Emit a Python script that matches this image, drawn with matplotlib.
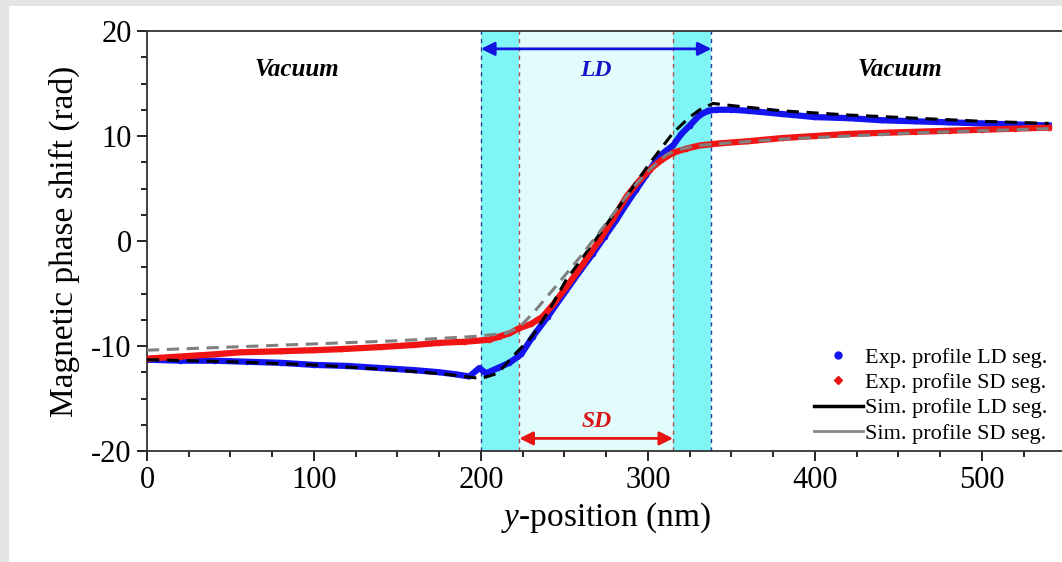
import numpy as np
import matplotlib
matplotlib.use("Agg")
import matplotlib.pyplot as plt
from matplotlib.patches import Rectangle
from matplotlib.ticker import MultipleLocator

plt.rcParams["mathtext.fontset"] = "custom"
plt.rcParams["mathtext.it"] = "Liberation Serif:italic"
plt.rcParams["mathtext.rm"] = "Liberation Serif"
plt.rcParams["axes.unicode_minus"] = False

# y-position (nm) and phase (rad)
x_ld = [0, 20, 40, 60, 80, 100, 120, 140, 160, 175, 185, 193, 199, 203, 210, 217, 224, 231,
        240, 251, 260, 267, 274, 281, 287, 293, 299, 305, 310, 315, 320, 325, 331, 336, 341,
        350, 360, 380, 400, 420, 440, 460, 480, 500, 520, 540]
exp_ld = [-11.3, -11.4, -11.4, -11.5, -11.6, -11.8, -11.9, -12.1, -12.3, -12.5, -12.7, -12.9,
          -12.1, -12.6, -12.1, -11.6, -10.8, -9.1, -7.2, -4.7, -2.7, -1.2, 0.4, 2.0, 3.5, 4.9,
          6.3, 7.7, 8.5, 9.1, 10.2, 11.0, 12.0, 12.4, 12.5, 12.5, 12.4, 12.1, 11.8, 11.7,
          11.5, 11.4, 11.3, 11.2, 11.1, 11.0]

x_sd = [0, 20, 40, 56, 80, 100, 116, 140, 160, 175, 190, 205, 211, 217, 223, 230, 237, 244,
        251, 261, 271, 279, 287, 294, 301, 308, 315, 323, 331, 343, 360, 380, 400, 420, 440,
        460, 480, 500, 520, 540]
exp_sd = [-11.2, -11.0, -10.8, -10.6, -10.5, -10.4, -10.3, -10.1, -9.9, -9.7, -9.6, -9.4, -9.1,
          -8.8, -8.3, -7.9, -7.2, -5.9, -4.4, -2.2, 0.1, 2.1, 4.2, 5.6, 6.8, 7.7, 8.4, 8.8,
          9.1, 9.3, 9.5, 9.8, 10.0, 10.2, 10.3, 10.4, 10.5, 10.6, 10.7, 10.8]

x_sim_ld = [0, 50, 100, 150, 180, 200, 210, 219, 230, 240, 251, 264, 277, 289, 301, 315,
            325, 331, 339, 350, 380, 420, 460, 500, 540]
sim_ld = [-11.3, -11.5, -11.8, -12.3, -12.7, -13.1, -12.6, -11.0, -9.2, -6.8, -3.7, -0.9, 2.0,
          4.7, 7.4, 10.3, 11.8, 12.5, 13.1, 12.9, 12.4, 12.0, 11.7, 11.4, 11.2]

x_sim_sd = [0, 50, 100, 150, 195, 215, 223, 231, 246, 261, 276, 291, 301, 311, 318, 330, 345,
            380, 420, 460, 500, 540]
sim_sd = [-10.4, -10.1, -9.8, -9.5, -9.1, -8.8, -8.2, -6.9, -4.1, -1.2, 1.9, 5.1, 6.8, 8.2,
          8.7, 9.1, 9.3, 9.7, 10.0, 10.3, 10.5, 10.7]

ld_region = (200, 338)
sd_region = (223, 315)

fig = plt.figure(figsize=(10.62, 5.62), dpi=100, facecolor="white")
# grey frame strips of the screenshot
fig.patches.append(Rectangle((0, 0), 9 / 1062, 1, transform=fig.transFigure,
                             facecolor="#e4e4e4", edgecolor="none"))
fig.patches.append(Rectangle((0, 556 / 562), 1, 6 / 562, transform=fig.transFigure,
                             facecolor="#e4e4e4", edgecolor="none"))
ax = fig.add_axes([147 / 1062, 111 / 562, 918.5 / 1062, 420 / 562])
ax.set_facecolor("white")

serif = "Liberation Serif"

# shaded domain-wall regions
ax.axvspan(ld_region[0], ld_region[1], color="#7ff5f5", lw=0, zorder=0)
ax.axvspan(sd_region[0], sd_region[1], color="#e2fcfc", lw=0, zorder=0)
for xv in ld_region:
    ax.axvline(xv, color="#1f3f9f", ls=(0, (3, 3)), lw=1, zorder=1)
for xv in sd_region:
    ax.axvline(xv, color="#b05050", ls=(0, (3, 3)), lw=1, zorder=1)

# curves
ax.plot(x_ld, exp_ld, color="#1414f0", lw=4.5, marker="o", ms=3, zorder=3)
ax.plot(x_sd, exp_sd, color="#f01414", lw=4.5, marker="o", ms=3, zorder=3)
ax.plot(x_sim_ld, sim_ld, color="black", lw=2.2, ls=(0, (4, 2.5)), zorder=4)
ax.plot(x_sim_sd, sim_sd, color="#808080", lw=2.2, ls=(0, (4, 2.5)), zorder=4)

# arrows and labels
ax.annotate("", xy=(ld_region[0], 18.3), xytext=(ld_region[1], 18.3),
            arrowprops=dict(arrowstyle="<|-|>", color="#1414e0", lw=2, mutation_scale=20,
                            shrinkA=0, shrinkB=0))
ax.text(sum(ld_region) / 2, 16.2, "LD", color="#1414c8", fontsize=17, fontweight="bold",
        style="italic", family=serif, ha="center", va="center")
ax.annotate("", xy=(sd_region[0], -18.8), xytext=(sd_region[1], -18.8),
            arrowprops=dict(arrowstyle="<|-|>", color="#e81414", lw=2, mutation_scale=20,
                            shrinkA=0, shrinkB=0))
ax.text(sum(sd_region) / 2, -17.2, "SD", color="#d81414", fontsize=17, fontweight="bold",
        style="italic", family=serif, ha="center", va="center")
ax.text(90, 16.3, "Vacuum", fontsize=18, fontweight="bold", style="italic", family=serif,
        ha="center", va="center")
ax.text(451, 16.3, "Vacuum", fontsize=18, fontweight="bold", style="italic", family=serif,
        ha="center", va="center")

# legend
h1, = ax.plot([], [], ls="none", marker="o", color="#1414f0", ms=5)
h2, = ax.plot([], [], ls="none", marker="D", color="#e81414", ms=4)
h3, = ax.plot([], [], color="black", lw=2.5)
h4, = ax.plot([], [], color="#888888", lw=2)
ax.legend([h1, h2, h3, h4],
          ["Exp. profile LD seg.", "Exp. profile SD seg.", "Sim. profile LD seg.", "Sim. profile SD seg."],
          loc="lower right", bbox_to_anchor=(0.997, -0.02), frameon=False,
          prop={"family": serif, "size": 16}, handlelength=2.2, handletextpad=0.1,
          labelspacing=0.22, borderaxespad=0.3)

ax.set_xlim(0, 550)
ax.set_ylim(-20, 20)
ax.set_yticks([-20, -10, 0, 10, 20])
ax.xaxis.set_major_locator(MultipleLocator(100))
ax.xaxis.set_minor_locator(MultipleLocator(25))
ax.yaxis.set_minor_locator(MultipleLocator(2.5))
ax.tick_params(which="major", direction="out", length=7, width=1.2, labelsize=22, pad=4)
ax.tick_params(which="minor", direction="out", length=4, width=1.2)
ax.tick_params(top=False, right=False)
for lab in ax.get_xticklabels() + ax.get_yticklabels():
    lab.set_family(serif)
ax.spines["right"].set_visible(False)
for s in ("left", "bottom", "top"):
    ax.spines[s].set_linewidth(1.3)
    ax.spines[s].set_color("#333333")

ax.set_xlabel("$\\it{y}$-position (nm)", fontsize=24, family=serif, labelpad=4)
ax.set_ylabel("Magnetic phase shift (rad)", fontsize=24, family=serif, labelpad=8)

fig.savefig("out.png", dpi=100, facecolor=fig.get_facecolor())
